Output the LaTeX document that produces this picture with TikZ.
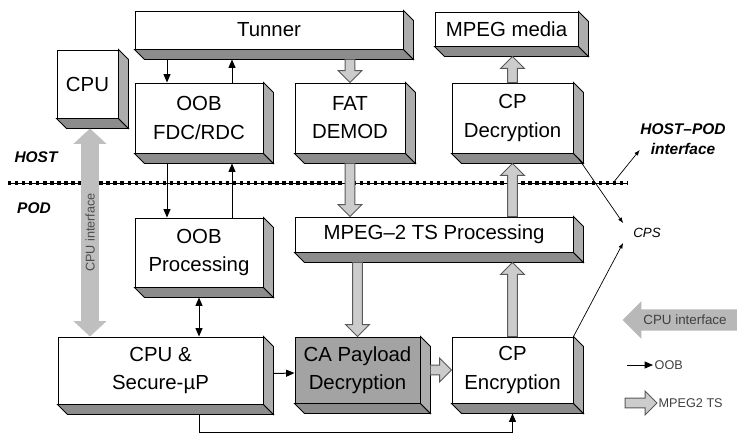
\documentclass[tikz,border=0pt]{standalone}
\usepackage{fontspec}
\setmainfont{Liberation Sans}
\usetikzlibrary{arrows.meta,calc,shapes.arrows}

\tikzset{
    blk/.style 2 args={draw, line width=0.7pt, fill=white, minimum width=#1*0.025cm,
        minimum height=#2*0.025cm, inner sep=0pt, align=center,
        font=\fontsize{14.5}{20}\selectfont},
    side/.style={draw, line width=0.7pt, fill=black!#1},
    oobar/.style={line width=0.7pt, -{Triangle[length=6pt,width=5pt]}},
    tsar/.style={draw=black!65, fill=black!20, line width=0.7pt},
    lbl/.style={font=\fontsize{11}{14}\selectfont\bfseries\itshape, align=center},
    legtext/.style={font=\fontsize{9}{11}\selectfont, text=black!75, inner sep=1pt},
    cpsline/.style={line width=0.5pt, -{Latex[length=4pt,width=3pt]}},
}

\newcommand\slab[1]{%
    \path[side=45] (#1.south west) -- (#1.south east) -- ++(10,10)
        -- ($(#1.south west)+(10,10)$) -- cycle;
    \path[side=32] (#1.north east) -- ++(10,10) -- ($(#1.south east)+(10,10)$)
        -- (#1.south east) -- cycle;
}

\newcommand\tsarrow[2]{%
    \coordinate (ta) at (#1);
    \coordinate (tb) at (#2);
    \coordinate (th) at ($(tb)!8.5pt!(ta)$);
    \path[tsar] ($(ta)!3.4pt!90:(tb)$) -- ($(th)!3.4pt!-90:(ta)$)
        -- ($(th)!8.5pt!-90:(ta)$) -- (tb) -- ($(th)!8.5pt!90:(ta)$)
        -- ($(th)!3.4pt!90:(ta)$) -- ($(ta)!3.4pt!-90:(tb)$) -- cycle;
}

\begin{document}
\begin{tikzpicture}[x=0.025cm, y=-0.025cm]
    \fill[white] (0,0) rectangle (741,435);
    \useasboundingbox (0,0) rectangle (741,435);

    \node[blk={268}{38}] (tun) at (269,30) {Tunner};
    \node[blk={61}{68}] (cpu) at (87.5,84) {CPU};
    \node[blk={128}{70}] (oob) at (199,118) {OOB\\FDC/RDC};
    \node[blk={110}{70}] (fat) at (350,118) {FAT\\DEMOD};
    \node[blk={143}{34}] (med) at (506.5,29) {MPEG media};
    \node[blk={121}{70}] (cpd) at (512.5,118) {CP\\Decryption};
    \node[blk={128}{69}] (oobp) at (199,252.5) {OOB\\Processing};
    \node[blk={278}{35}] (mts) at (434,234.5) {MPEG–2 TS Processing};
    \node[blk={205}{67}] (sec) at (160.5,370.5) {CPU \&\\Secure-µP};
    \node[blk={125}{66}, fill=black!36] (cap) at (357.5,370) {CA Payload\\Decryption};
    \node[blk={121}{66}] (cpe) at (512.5,370) {CP\\Encryption};

    \foreach \bx in {tun,cpu,oob,fat,med,cpd,oobp,mts,sec,cap,cpe}
        {\slab{\bx}}

    \coordinate (dl) at (8,183);
    \coordinate (dr) at (627,183);
    \draw[line width=0.6pt] (dl) -- (dr);
    \draw[line width=2.6pt, dash pattern=on 2.4pt off 2.6pt] (dl) -- (dr);
    \node[lbl] (host) at (36,157) {HOST};
    \node[lbl] (pod) at (34,208) {POD};

    \draw[line width=12.8pt, black!25, {Triangle[length=11pt,width=23pt]}-{Triangle[length=11pt,width=23pt]}]
        ($(cpu.south)+(2.5,10)$) -- ($(sec.north -| cpu)+(2.5,0)$)
        node[midway, rotate=90, font=\fontsize{9}{11}\selectfont, text=black!70] {CPU interface};

    \draw[oobar] ($(tun.south -| oob)+(-32,10)$) -- ($(oob.north)+(-32,0)$);
    \draw[oobar] ($(oob.north)+(33,0)$) -- ($(tun.south -| oob)+(33,10)$);
    \draw[oobar] ($(oob.south)+(-32,10)$) -- ($(oobp.north)+(-32,0)$);
    \draw[oobar] ($(oobp.north)+(33,0)$) -- ($(oob.south)+(33,10)$);
    \draw[oobar, {Triangle[length=6pt,width=5pt]}-{Triangle[length=6pt,width=5pt]}]
        ($(oobp.south)+(0,10)$) -- (sec.north -| oobp);
    \draw[oobar] ($(sec.east)+(10,3)$) -- ($(cap.west)+(0,3)$);
    \draw[oobar] ($(sec.south -| oobp)+(0,10)$) -- ++(0,18) -| ($(cpe.south)+(0,10)$);

    \tsarrow{$(tun.south -| fat)+(0,10)$}{fat.north}
    \tsarrow{$(fat.south)+(0,10)$}{mts.north -| fat}
    \tsarrow{$(mts.south -| cap)+(0,10)$}{cap.north}
    \tsarrow{$(cap.east)+(10,0)$}{cpe.west}
    \tsarrow{cpe.north}{$(mts.south -| cpe)+(0,10)$}
    \tsarrow{mts.north -| cpd}{$(cpd.south)+(0,10)$}
    \tsarrow{cpd.north}{$(med.south -| cpd)+(0,10)$}

    \node[lbl] (hpi) at (683,139) {HOST–POD\\interface};
    \coordinate (hp) at (613,183);
    \draw[cpsline] (hp) -- ([shift={(3pt,-7.8pt)}]hpi.west);

    \node[font=\fontsize{9.5}{11}\selectfont\itshape, inner xsep=7pt] (cps) at (647,233) {CPS};
    \draw[cpsline] ($(cpd.south east)+(5,5)$) -- ([yshift=7pt]cps.west);
    \draw[cpsline] (cpe.north east) -- ([yshift=-7pt]cps.west);

    \node[single arrow, shape border rotate=180, fill=black!28, minimum height=2.85cm,
        single arrow head extend=0.2cm, inner ysep=3.8pt, inner xsep=1pt,
        font=\fontsize{9.5}{11}\selectfont, text=black!75] (lgc) at (685,320) {CPU interface};

    \coordinate (lgo) at (627,365);
    \node[legtext, anchor=west] (lgot) at (653,365) {OOB};
    \draw[oobar] (lgo) -- (lgot.west);

    \coordinate (lgt) at (625,403);
    \node[legtext, anchor=west] (lgtt) at (657,403) {MPEG2 TS};
    \tsarrow{lgt}{lgtt.west}
\end{tikzpicture}
\end{document}
